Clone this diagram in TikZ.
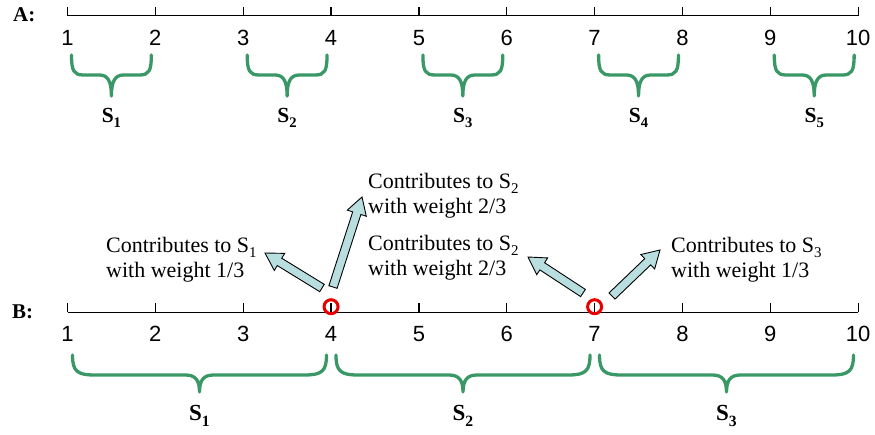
\documentclass[tikz,border=0pt]{standalone}
\usepackage{fontspec}
\usepackage{graphicx}
\setmainfont{Liberation Serif}
\newfontfamily\numfont{Liberation Sans}
\usetikzlibrary{calc}
\definecolor{bracegreen}{RGB}{58,152,102}
\definecolor{arrowblue}{RGB}{185,222,224}
\definecolor{circred}{RGB}{232,0,0}
\newcommand{\lowsub}[1]{\raisebox{-0.24em}{\scalebox{0.68}{#1}}}
% x1, x2, y0, dh, r, t, tip
\newcommand{\greenbrace}[7]{%
  \draw[bracestyle] (#1,#3)
    .. controls (#1,{#3+0.8*#4}) and ({#1+0.2*#5},{#3+#4}) .. ({#1+#5},{#3+#4})
    -- ({(#1+#2)/2-#6},{#3+#4})
    .. controls ({(#1+#2)/2-0.3*#6},{#3+#4}) and ({(#1+#2)/2},{#3+#4+0.3*#7}) .. ({(#1+#2)/2},{#3+#4+#7})
    .. controls ({(#1+#2)/2},{#3+#4+0.3*#7}) and ({(#1+#2)/2+0.3*#6},{#3+#4}) .. ({(#1+#2)/2+#6},{#3+#4})
    -- ({#2-#5},{#3+#4})
    .. controls ({#2-0.2*#5},{#3+#4}) and (#2,{#3+0.8*#4}) .. (#2,#3);}
% tail, tip
\newcommand{\blockarrow}[2]{%
  \coordinate (neck#2) at ($(#2)!17pt!(#1)$);
  \filldraw[arrowstyle] ($(#1)!4.3pt!90:(#2)$) -- ($(neck#2)!4.3pt!90:(#2)$)
    -- ($(neck#2)!10pt!90:(#2)$) -- (#2) -- ($(neck#2)!10pt!-90:(#2)$)
    -- ($(neck#2)!4.3pt!-90:(#2)$) -- ($(#1)!4.3pt!-90:(#2)$) -- cycle;}
\begin{document}
\begin{tikzpicture}[x=1pt,y=-1pt,
  axis/.style={line width=1.3pt, black},
  num/.style={font=\numfont\fontsize{22}{24}\selectfont, inner sep=0pt, anchor=base},
  lab/.style={font=\bfseries\fontsize{21}{24}\selectfont, inner sep=0pt, anchor=base west},
  slabA/.style={font=\bfseries\fontsize{21.5}{24}\selectfont, inner sep=0pt, anchor=base},
  slabB/.style={font=\bfseries\fontsize{23}{26}\selectfont, inner sep=0pt, anchor=base},
  txt/.style={font=\fontsize{22}{25}\selectfont, inner sep=0pt, align=left, anchor=base west},
  bracestyle/.style={draw=bracegreen, line width=3.3pt, line cap=round, line join=round},
  arrowstyle/.style={fill=arrowblue, draw=black, line width=0.9pt, line join=miter},
  mark circ/.style={draw=circred, line width=3pt, circle, minimum size=14pt, inner sep=0pt}]
\useasboundingbox (0,0) rectangle (875,434);

% ---------- A ----------
\node[lab] (labA) at (13,21) {A:};
\draw[axis] (67.5,15.7) -- (858.15,15.7);
\foreach \i in {1,...,10} {
  \draw[axis] ({67.5+87.85*(\i-1)},15.7) -- ({67.5+87.85*(\i-1)},6.5);
  \node[num] (a\i) at ({67.5+87.85*(\i-1)},45.5) {\i};
}
\greenbrace{71.5}{151.35}{55}{20}{12}{12}{21}
\greenbrace{247.2}{327.05}{55}{20}{12}{12}{21}
\greenbrace{422.9}{502.75}{55}{20}{12}{12}{21}
\greenbrace{598.6}{678.45}{55}{20}{12}{12}{21}
\greenbrace{774.3}{854.15}{55}{20}{12}{12}{21}
\node[slabA] (sa1) at (111.4,122.7) {S\lowsub{1}};
\node[slabA] (sa2) at (287.1,122.7) {S\lowsub{2}};
\node[slabA] (sa3) at (462.8,122.7) {S\lowsub{3}};
\node[slabA] (sa4) at (638.5,122.7) {S\lowsub{4}};
\node[slabA] (sa5) at (814.2,122.7) {S\lowsub{5}};

% ---------- B ----------
\node[lab] (labB) at (12,318) {B:};
\draw[axis] (67.5,312.3) -- (858.15,312.3);
\foreach \i in {1,...,10} {
  \draw[axis] ({67.5+87.85*(\i-1)},312.3) -- ({67.5+87.85*(\i-1)},303);
  \node[num] (b\i) at ({67.5+87.85*(\i-1)},341) {\i};
}
\node[mark circ] (c4) at (331.05,306.7) {};
\node[mark circ] (c7) at (594.6,306.7) {};

\greenbrace{72.5}{326.5}{355}{20}{22}{14}{17}
\greenbrace{336}{590}{355}{20}{22}{14}{17}
\greenbrace{599.5}{853.5}{355}{20}{22}{14}{17}
\node[slabB] (sb1) at (199.5,420.5) {S\lowsub{1}};
\node[slabB] (sb2) at (463,420.5) {S\lowsub{2}};
\node[slabB] (sb3) at (726.5,420.5) {S\lowsub{3}};

% ---------- texts (anchor base = last line) ----------
\node[txt] (t1) at (106,277.7) {Contributes to S\lowsub{1}\\with weight 1/3};
\node[txt] (t2) at (368,213) {Contributes to S\lowsub{2}\\with weight 2/3};
\node[txt] (t3) at (368,275) {Contributes to S\lowsub{2}\\with weight 2/3};
\node[txt] (t4) at (671,277.7) {Contributes to S\lowsub{3}\\with weight 1/3};

% ---------- arrows ----------
\coordinate (q1) at (322,288); \coordinate (p1) at (265,253);
\coordinate (q2) at (333,287); \coordinate (p2) at (362,197);
\coordinate (q3) at (583,293); \coordinate (p3) at (528,257);
\coordinate (q4) at (612,296); \coordinate (p4) at (660,250);
\blockarrow{q1}{p1}
\blockarrow{q2}{p2}
\blockarrow{q3}{p3}
\blockarrow{q4}{p4}
\end{tikzpicture}
\end{document}
